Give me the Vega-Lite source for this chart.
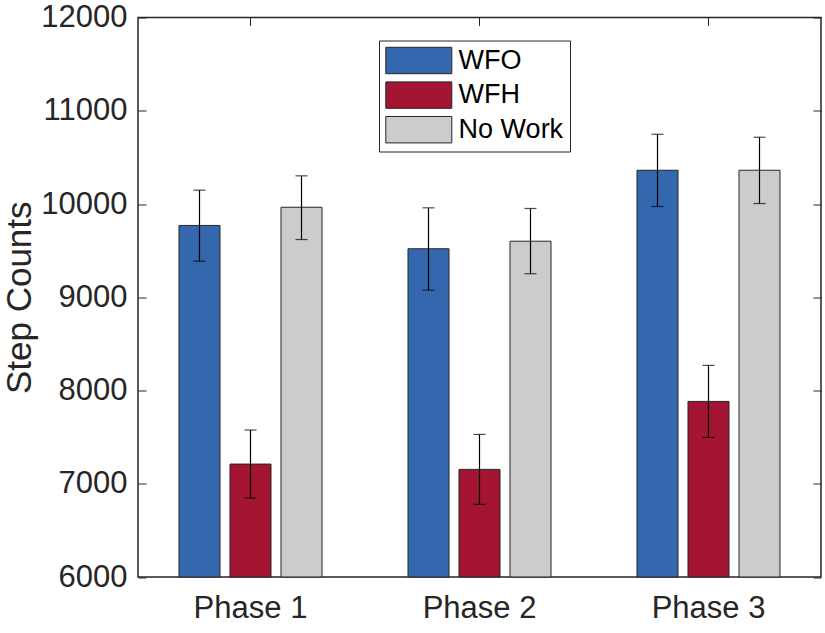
{
  "$schema": "https://vega.github.io/schema/vega-lite/v6.json",
  "width": 683,
  "height": 559.5,
  "autosize": {"type": "none"},
  "padding": {"left": 138, "top": 17.5, "right": 4, "bottom": 56},
  "background": "white",
  "config": {
    "font": "Liberation Sans",
    "view": {"stroke": "#262626", "strokeWidth": 1.5},
    "axis": {"grid": false, "domain": false, "tickColor": "#262626", "tickWidth": 1, "labelColor": "#262626", "titleColor": "#262626", "labelFont": "Liberation Sans", "titleFont": "Liberation Sans", "titleFontWeight": "normal"}
  },
  "data": {
    "values": [
      {"phase": "Phase 1", "group": "WFO", "mean": 9770, "lo": 9387, "hi": 10148},
      {"phase": "Phase 1", "group": "WFH", "mean": 7211, "lo": 6847, "hi": 7576},
      {"phase": "Phase 1", "group": "No Work", "mean": 9965, "lo": 9619, "hi": 10302},
      {"phase": "Phase 2", "group": "WFO", "mean": 9520, "lo": 9076, "hi": 9959},
      {"phase": "Phase 2", "group": "WFH", "mean": 7154, "lo": 6779, "hi": 7529},
      {"phase": "Phase 2", "group": "No Work", "mean": 9601, "lo": 9252, "hi": 9952},
      {"phase": "Phase 3", "group": "WFO", "mean": 10362, "lo": 9973, "hi": 10748},
      {"phase": "Phase 3", "group": "WFH", "mean": 7883, "lo": 7497, "hi": 8269},
      {"phase": "Phase 3", "group": "No Work", "mean": 10362, "lo": 10005, "hi": 10716}
    ]
  },
  "encoding": {
    "x": {"field": "phase", "type": "nominal", "scale": {"paddingInner": 0.3755, "paddingOuter": 0.179}},
    "xOffset": {"field": "group", "type": "nominal", "sort": ["WFO", "WFH", "No Work"], "scale": {"domain": ["WFO", "WFH", "No Work"], "paddingInner": 0.196, "paddingOuter": 0}}
  },
  "layer": [
    {
      "mark": {"type": "bar", "stroke": "#262626", "strokeWidth": 1},
      "encoding": {
        "x": {"field": "phase", "type": "nominal", "axis": {"orient": "bottom", "title": null, "labelAngle": 0, "labelFontSize": 31, "labelPadding": 24, "tickSize": -8}},
        "y": {"field": "mean", "type": "quantitative", "scale": {"domain": [6000, 12000], "zero": false, "nice": false}, "axis": {"orient": "left", "title": "Step Counts", "titleFontSize": 35, "titlePadding": 3, "labelFontSize": 31, "labelPadding": 19, "tickSize": -8, "values": [6000, 7000, 8000, 9000, 10000, 11000, 12000], "format": "d"}},
        "y2": {"datum": 6000},
        "color": {"field": "group", "type": "nominal", "sort": ["WFO", "WFH", "No Work"], "scale": {"domain": ["WFO", "WFH", "No Work"], "range": ["#3567AE", "#A41433", "#CCCCCC"]}, "legend": {"title": null, "orient": "none", "legendX": 241, "legendY": 23, "padding": 6, "strokeColor": "#262626", "fillColor": "white", "symbolType": "M-1,-1H4V1H-1Z", "symbolSize": 697, "symbolStrokeColor": "#262626", "symbolStrokeWidth": 1, "symbolOpacity": 1, "labelFontSize": 27, "labelColor": "black", "labelOffset": 45.6, "rowPadding": 2.6}}
      }
    },
    {
      "mark": {"type": "rule", "color": "black", "strokeWidth": 1.2},
      "encoding": {
        "x": {"field": "phase", "type": "nominal", "axis": {"orient": "top", "title": null, "labels": false, "tickSize": -8}},
        "y": {"field": "lo", "type": "quantitative", "axis": {"orient": "right", "title": null, "labels": false, "tickSize": -8, "values": [6000, 7000, 8000, 9000, 10000, 11000, 12000]}},
        "y2": {"field": "hi"}
      }
    },
    {
      "mark": {"type": "tick", "color": "black", "size": 12, "thickness": 1.2},
      "encoding": {
        "x": {"field": "phase", "type": "nominal", "axis": null},
        "y": {"field": "lo", "type": "quantitative", "axis": null}
      }
    },
    {
      "mark": {"type": "tick", "color": "black", "size": 12, "thickness": 1.2},
      "encoding": {
        "x": {"field": "phase", "type": "nominal", "axis": null},
        "y": {"field": "hi", "type": "quantitative", "axis": null}
      }
    }
  ],
  "resolve": {"axis": {"x": "independent", "y": "independent"}}
}
